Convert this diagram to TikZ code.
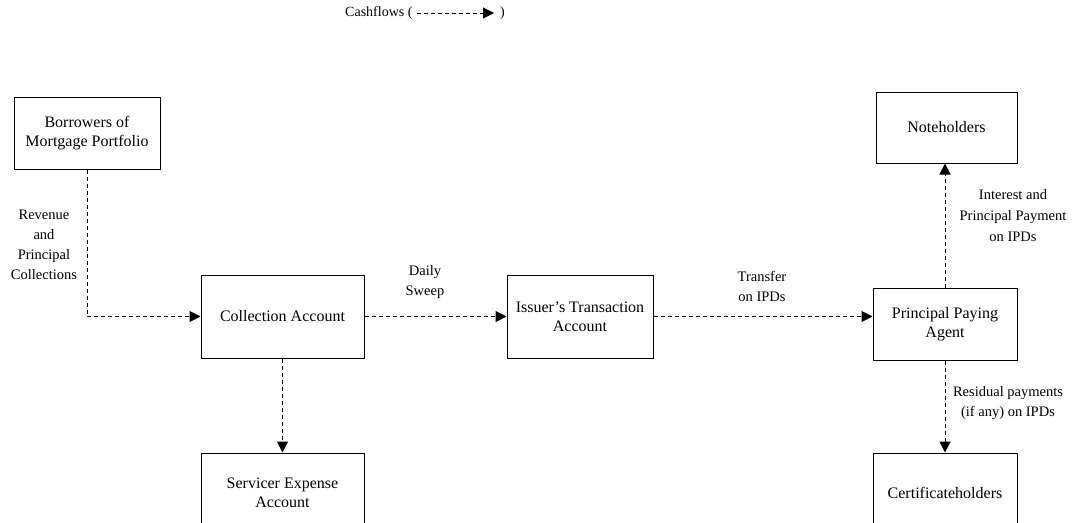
\documentclass[tikz,border=0pt]{standalone}
\usepackage{fontspec}
\setmainfont{Liberation Serif}
\usetikzlibrary{arrows.meta}
\tikzset{
  boxnode/.style={draw, line width=1pt, inner sep=0pt, align=center, font=\fontsize{16}{19}\selectfont},
  lbl/.style={align=center, inner sep=0pt, font=\fontsize{14.5}{20}\selectfont},
  flow/.style={line width=1pt, dash pattern=on 4pt off 3pt, -{Triangle[width=11pt,length=11pt]}},
}
\begin{document}
\begin{tikzpicture}[x=1pt,y=-1pt]
\useasboundingbox (0,0) rectangle (1073,522);
\clip (0,0) rectangle (1073,522);
% legend
\node[anchor=west, inner sep=1pt, font=\fontsize{14}{17}\selectfont] (leg) at (344,13) {Cashflows (};
\node[anchor=west, inner sep=1pt, font=\fontsize{14}{17}\selectfont] (legr) at (499,13) {)};
\draw[flow] ([xshift=3pt]leg.east) -- ([xshift=-5pt]legr.west);
% boxes
\node[boxnode, minimum width=146pt, minimum height=72pt] (bor) at (87,133) {Borrowers of\\Mortgage Portfolio};
\node[boxnode, minimum width=141pt, minimum height=71pt] (note) at (946.5,127.5) {Noteholders};
\node[boxnode, minimum width=163pt, minimum height=83pt] (coll) at (282.5,316.5) {Collection Account};
\node[boxnode, minimum width=146pt, minimum height=83pt] (iss) at (580,316.5) {Issuer’s Transaction\\Account};
\node[boxnode, minimum width=144pt, minimum height=72pt] (ppa) at (945,324) {Principal Paying\\Agent};
\node[boxnode, minimum width=163pt, minimum height=80pt] (serv) at (282.5,493) {Servicer Expense\\Account};
\node[boxnode, minimum width=144pt, minimum height=80pt] (cert) at (945,493) {Certificateholders};
% connectors
\draw[flow] (bor.south) |- (coll.west);
\draw[flow] (coll.east) -- (iss.west);
\draw[flow] (iss.east) -- (iss.east -| ppa.west);
\draw[flow] (ppa.north) -- (ppa.north |- note.south);
\draw[flow] (ppa.south) -- (ppa.south |- cert.north);
\draw[flow] (coll.south) -- (serv.north);
% labels
\node[lbl] (l1) at (44,245) {Revenue\\and\\Principal\\Collections};
\node[lbl] (l2) at (425,282) {Daily\\Sweep};
\node[lbl] (l3) at (762,286) {Transfer\\on IPDs};
\node[lbl, font=\fontsize{14.5}{21}\selectfont] (l4) at (1013,216) {Interest and\\Principal Payment\\on IPDs};
\node[lbl] (l5) at (1008,403) {Residual payments\\(if any) on IPDs};
\end{tikzpicture}
\end{document}
